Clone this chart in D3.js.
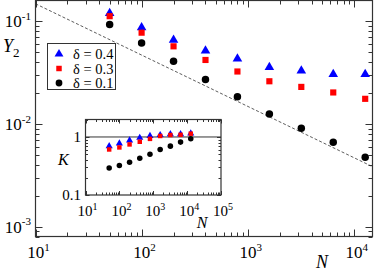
<!DOCTYPE html>
<html><head><meta charset="utf-8">
<script src="https://cdn.jsdelivr.net/npm/d3@7"></script>
<style>
html,body{margin:0;padding:0;background:#fff;}
svg{display:block;font-family:"Liberation Serif","Times New Roman",serif;}
</style></head>
<body>
<svg id="c" width="374" height="271"></svg>
<script>
// ---- data ----
const N = [50, 100, 200, 400, 800, 1600, 3200, 6400, 12800];
const seriesLabels = ["δ = 0.4", "δ = 0.3", "δ = 0.1"];
const Y2_d04 = [0.120, 0.0874, 0.066, 0.0518, 0.0433, 0.0357, 0.0331, 0.0306, 0.0306];
const Y2_d03 = [0.1125, 0.0777, 0.0572, 0.0421, 0.0325, 0.0261, 0.0230, 0.0203, 0.0176];
const Y2_d01 = [0.0935, 0.0615, 0.041, 0.0272, 0.0184, 0.0125, 0.00908, 0.00663, 0.00475];
const K_d04 = [0.695, 0.774, 0.873, 0.968, 1.04, 1.08, 1.12, 1.12, 1.155];
const K_d03 = [0.609, 0.66, 0.744, 0.826, 0.927, 1.04, 1.08, 1.09, 1.14];
const K_d01 = [0.292, 0.321, 0.367, 0.43, 0.505, 0.609, 0.695, 0.815, 0.93];
const refLineN = [10, 15000];           // dashed guide  ~ N^-1/2
const refLineC = 0.47;
const mainXTicks = [1, 2, 3, 4];         // exponents of 10
const mainYTicks = [-1, -2, -3];
const insetXTicks = [1, 2, 3, 4, 5];
const insetYTicks = ["0.1", "1"];

const svg = d3.select("#c");
const axisCol = "#333";
const serif = "'Liberation Serif','Times New Roman',serif";

function logTicks(lo, hi) {
  const out = [];
  for (let e = Math.floor(Math.log10(lo)); e <= Math.ceil(Math.log10(hi)); e++) {
    for (let m = 1; m <= 9; m++) {
      const v = m * Math.pow(10, e);
      if (v >= lo * 0.9999 && v <= hi * 1.0001) out.push({v, major: m === 1});
    }
  }
  return out;
}

function drawFrame(g, x, y, opt) {
  const [x0, x1] = x.range(), [y0, y1] = y.range();
  const xd = x.domain(), yd = y.domain();
  const xt = logTicks(xd[0], xd[1]), yt = logTicks(yd[0], yd[1]);
  const tk = g.append("g").attr("stroke", axisCol).attr("stroke-width", 1);
  xt.forEach(t => {
    const px = Math.round(x(t.v)) + 0.5, L = t.major ? opt.maj : opt.min;
    tk.append("line").attr("x1", px).attr("x2", px).attr("y1", y0).attr("y2", y0 - L);
    tk.append("line").attr("x1", px).attr("x2", px).attr("y1", y1).attr("y2", y1 + L);
  });
  yt.forEach(t => {
    const py = Math.round(y(t.v)) + 0.5, L = t.major ? opt.maj : opt.min;
    tk.append("line").attr("y1", py).attr("y2", py).attr("x1", x0).attr("x2", x0 + L);
    tk.append("line").attr("y1", py).attr("y2", py).attr("x1", x1).attr("x2", x1 - L);
  });
  g.append("rect").attr("x", x0).attr("y", y1).attr("width", x1 - x0).attr("height", y0 - y1)
    .attr("fill", "none").attr("stroke", axisCol).attr("stroke-width", 1.2);
}

function powLabel(g, px, py, exp, fs, sfs, anchor) {
  const t = g.append("text").attr("x", px).attr("y", py).attr("font-size", fs)
    .attr("font-family", serif).attr("text-anchor", anchor).attr("fill", "#000");
  t.append("tspan").text("10");
  t.append("tspan").attr("dy", -fs * 0.42).attr("font-size", sfs).text(exp);
  return t;
}

// ---- main plot ----
const x = d3.scaleLog().domain([10, 15000]).range([35.5, 372.5]);
const y = d3.scaleLog().domain([8e-4, 0.16]).range([236.5, 0.5]);
const main = svg.append("g");
main.append("rect").attr("x", 35.5).attr("y", 0.5).attr("width", 337).attr("height", 236).attr("fill", "#fff");

// dashed guide
main.append("line")
  .attr("x1", x(refLineN[0])).attr("y1", y(refLineC / Math.sqrt(refLineN[0])))
  .attr("x2", x(refLineN[1])).attr("y2", y(refLineC / Math.sqrt(refLineN[1])))
  .attr("stroke", "#333").attr("stroke-width", 0.8).attr("stroke-dasharray", "3,2");

drawFrame(main, x, y, {maj: 7, min: 4});

mainXTicks.forEach(e => powLabel(main, x(Math.pow(10, e)) + 3, 258, String(e), 17, 11, "middle"));
mainYTicks.forEach(e => powLabel(main, 31, y(Math.pow(10, e)) + 6, "-" + Math.abs(e), 17, 11, "end"));

// axis labels
const yl = main.append("text").attr("x", 3).attr("y", 52).attr("font-size", 18)
  .attr("font-family", serif).attr("font-style", "italic");
yl.append("tspan").text("Y");
yl.append("tspan").attr("dy", 5).attr("font-size", 13).attr("font-style", "normal").text("2");
main.append("text").attr("x", 322).attr("y", 268).attr("font-size", 18).attr("font-style", "italic")
  .attr("font-family", serif).attr("text-anchor", "middle").text("N");

const symT = (s) => d3.symbol().type(d3.symbolTriangle).size(s)();
const symS = (s) => d3.symbol().type(d3.symbolSquare).size(s)();
const symC = (s) => d3.symbol().type(d3.symbolCircle).size(s)();

function plotSeries(g, xs, ys, vals, path, col) {
  g.append("g").selectAll("path").data(vals).join("path")
    .attr("d", path).attr("fill", col)
    .attr("transform", (d, i) => `translate(${xs(N[i])},${ys(d)})`);
}
plotSeries(main, x, y, Y2_d04, symT(40), "#0000ff");
plotSeries(main, x, y, Y2_d03, symS(38), "#ff0000");
plotSeries(main, x, y, Y2_d01, symC(44), "#000");

// legend
const lg = main.append("g");
lg.append("rect").attr("x", 47.5).attr("y", 43.5).attr("width", 68).attr("height", 46)
  .attr("fill", "#fff").attr("stroke", axisCol).attr("stroke-width", 1);
const legSym = [symT(34), symS(30), symC(36)];
const legCol = ["#0000ff", "#ff0000", "#000"];
seriesLabels.forEach((s, i) => {
  const yy = 54 + i * 14.5;
  lg.append("path").attr("d", legSym[i]).attr("fill", legCol[i]).attr("transform", `translate(59,${yy})`);
  lg.append("text").attr("x", 73).attr("y", yy + 5).attr("font-size", 14.5)
    .attr("font-family", serif).text(s);
});

// ---- inset ----
const xi = d3.scaleLog().domain([10, 1e5]).range([85.5, 221]);
const yi = d3.scaleLog().domain([0.1, 2]).range([195, 119.5]);
const ins = svg.append("g");
ins.append("rect").attr("x", 85.5).attr("y", 119.5).attr("width", 135.5).attr("height", 75.5).attr("fill", "#fff");
ins.append("line").attr("x1", 85.5).attr("x2", 221).attr("y1", yi(1)).attr("y2", yi(1))
  .attr("stroke", "#333").attr("stroke-width", 1);
drawFrame(ins, xi, yi, {maj: 4, min: 2.5});
plotSeries(ins, xi, yi, K_d04, symT(22), "#0000ff");
plotSeries(ins, xi, yi, K_d03, symS(20), "#ff0000");
plotSeries(ins, xi, yi, K_d01, symC(24), "#000");

insetXTicks.forEach(e => powLabel(ins, xi(Math.pow(10, e)) + 2, 216, String(e), 15, 10, "middle"));
insetYTicks.forEach(s => ins.append("text").attr("x", 81).attr("y", yi(+s) + 5).attr("font-size", 15)
  .attr("font-family", serif).attr("text-anchor", "end").text(s));
ins.append("text").attr("x", 58).attr("y", 165).attr("font-size", 16).attr("font-style", "italic")
  .attr("font-family", serif).text("K");
ins.append("text").attr("x", 202).attr("y", 228).attr("font-size", 16).attr("font-style", "italic")
  .attr("font-family", serif).attr("text-anchor", "middle").text("N");
</script>
</body></html>
